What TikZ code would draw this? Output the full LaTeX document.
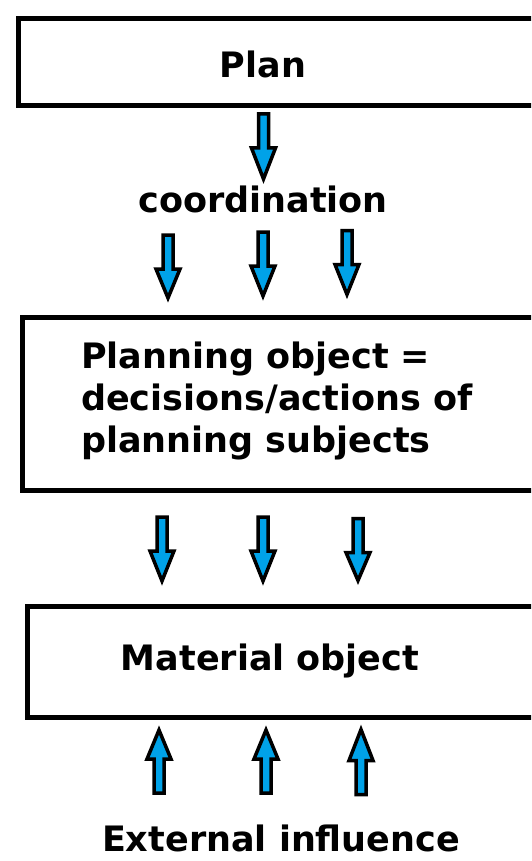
\documentclass[tikz,border=0pt]{standalone}
\usepackage{fontspec}
\setmainfont{DejaVu Sans}
\definecolor{paintblue}{HTML}{00A2E8}
\begin{document}
\begin{tikzpicture}[x=1pt,y=-1pt,
  boxline/.style={draw=black,line width=5pt},
  lbl/.style={inner sep=0pt,font=\fontsize{35}{42}\selectfont\bfseries},
  blockarrow/.style={draw=black,fill=paintblue,line width=3.5pt,line join=miter},
  darr/.pic={\path[blockarrow] (-5,0) -- (5,0) -- (5,34) -- (12,34) -- (0,#1) -- (-12,34) -- (-5,34) -- cycle;}
]
\useasboundingbox (0,0) rectangle (531,861);
\fill[white] (0,0) rectangle (531,861);
\begin{scope}
\clip (0,0) rectangle (531,861);
% boxes
\node[boxline,anchor=north west,minimum width=540pt,minimum height=87pt,inner sep=0pt] (planbox) at (16,16) {};
\node[boxline,anchor=north west,minimum width=540pt,minimum height=173pt,inner sep=0pt] (objbox) at (20,314.5) {};
\node[boxline,anchor=north west,minimum width=540pt,minimum height=111pt,inner sep=0pt] (matbox) at (24.5,603.5) {};
% texts
\node[lbl,anchor=base] (plan) at (263,78) {Plan};
\node[lbl,anchor=base] (coord) at (263,212) {coordination};
\node[lbl,anchor=base west,align=left] (obj) at (81,452) {Planning object =\\decisions/actions of\\planning subjects};
\node[lbl,anchor=base] (mat) at (270,670) {Material object};
\node[lbl,anchor=base] (ext) at (281,851) {External influence};
% arrows
\pic (a1) at (263.5,114) {darr=65};
\pic (a2) at (168,235) {darr=63};
\pic (a3) at (263,232) {darr=64};
\pic (a4) at (347,230.5) {darr=64};
\pic (a5) at (162,517) {darr=64};
\pic (a6) at (263,517) {darr=64};
\pic (a7) at (358,518.5) {darr=62};
\pic[rotate=180] (a8) at (159,793) {darr=63};
\pic[rotate=180] (a9) at (266,793) {darr=63};
\pic[rotate=180] (a10) at (361,794.5) {darr=65};
\end{scope}
\end{tikzpicture}
\end{document}
